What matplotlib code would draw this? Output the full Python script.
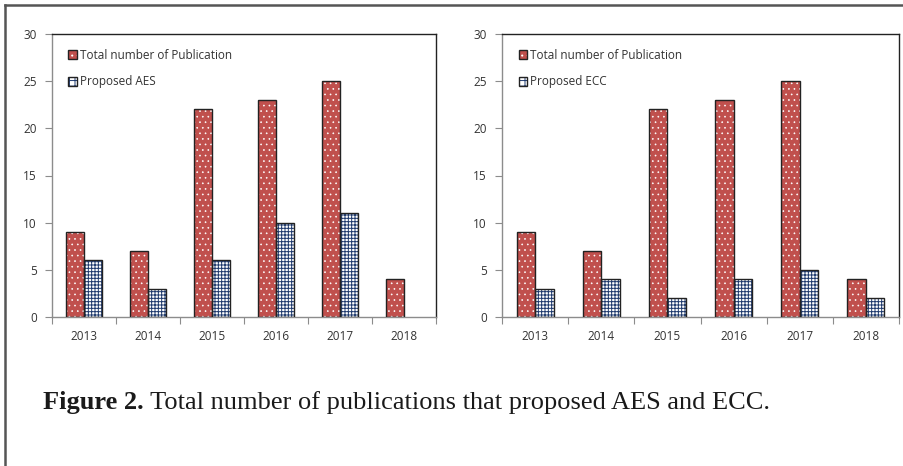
import matplotlib
matplotlib.use("Agg")
import matplotlib.pyplot as plt
import numpy as np
from matplotlib.patches import Patch
from matplotlib.lines import Line2D

years = ["2013", "2014", "2015", "2016", "2017", "2018"]
total_pubs = [9, 7, 22, 23, 25, 4]
aes_pubs = [6, 3, 6, 10, 11, 0]
ecc_pubs = [3, 4, 2, 4, 5, 2]
yticks = [0, 5, 10, 15, 20, 25, 30]
caption_bold = "Figure 2."
caption_rest = " Total number of publications that proposed AES and ECC."

RED = "#C0504D"
NAVY = "#1F3A6E"
AXGRAY = "#8C8C8C"
TXT = "#333333"
EDGE = "#222222"

plt.rcParams["font.family"] = ["Open Sans", "DejaVu Sans"]
plt.rcParams["hatch.linewidth"] = 0.7

W, H = 904, 466
fig = plt.figure(figsize=(W / 100, H / 100), dpi=100)

# outer frame (top and left edges)
fig.add_artist(Line2D([5 / W, 1], [1 - 5 / H] * 2, color="#555555", lw=1.8,
                      transform=fig.transFigure))
fig.add_artist(Line2D([5 / W] * 2, [0, 1 - 5 / H], color="#555555", lw=1.8,
                      transform=fig.transFigure))


def draw_panel(rect, second, second_label):
    ax = fig.add_axes(rect)
    x = np.arange(len(years))
    w = 0.28
    xr = x - w / 2
    xb = x + w / 2
    # red dotted bars: fill + small white dots, then dark outline
    with plt.rc_context({"hatch.linewidth": 0.45}):
        ax.bar(xr, total_pubs, w, color=RED, edgecolor="white", hatch="...", lw=0, zorder=2)
    ax.bar(xr, total_pubs, w, fill=False, edgecolor=EDGE, lw=1.0, zorder=3)
    # blue grid bars
    b = [v if v > 0 else np.nan for v in second]
    ax.bar(xb, b, w, color="white", edgecolor=NAVY, hatch="+++++", lw=0, zorder=2)
    ax.bar(xb, b, w, fill=False, edgecolor=EDGE, lw=1.0, zorder=3)

    ax.set_xlim(-0.5, len(years) - 0.5)
    ax.set_ylim(0, 30)
    ax.set_yticks(yticks)
    ax.set_xticks(np.arange(len(years) + 1) - 0.5)
    ax.set_xticklabels([])
    ax.set_xticks(x, minor=True)
    ax.set_xticklabels(years, minor=True)
    ax.tick_params(axis="x", which="minor", length=0, pad=9, labelsize=8.5, labelcolor=TXT)
    ax.tick_params(axis="x", which="major", length=5, color=AXGRAY, direction="out")
    ax.tick_params(axis="y", length=5, color=AXGRAY, direction="out", labelsize=8.5,
                   labelcolor=TXT, pad=6)
    for s in ("left", "bottom"):
        ax.spines[s].set_color(AXGRAY)
        ax.spines[s].set_linewidth(1.0)
    for s in ("top", "right"):
        ax.spines[s].set_color(EDGE)
        ax.spines[s].set_linewidth(1.0)

    with plt.rc_context({"hatch.linewidth": 0.45}):
        red_fill = Patch(facecolor=RED, edgecolor="white", hatch="...", lw=0)
    h_red = (red_fill, Patch(fill=False, edgecolor=EDGE, lw=1.0))
    h_blue = (Patch(facecolor="white", edgecolor=NAVY, hatch="+++", lw=0),
              Patch(fill=False, edgecolor=EDGE, lw=1.0))
    ax.legend([h_red, h_blue], ["Total number of Publication", second_label],
              loc="upper left", bbox_to_anchor=(0.015, 0.985), frameon=False,
              handlelength=0.75, handleheight=0.75, handletextpad=0.25,
              labelspacing=1.15, fontsize=8.5, labelcolor=TXT)
    return ax


draw_panel([52 / W, 1 - 317 / H, (436 - 52) / W, (317 - 34) / H],
           aes_pubs, "Proposed AES")
draw_panel([502 / W, 1 - 317 / H, (899 - 502) / W, (317 - 34) / H],
           ecc_pubs, "Proposed ECC")

# caption: bold label followed by regular text on the same baseline
cap_y = 1 - 409 / H
t = fig.text(43 / W, cap_y, caption_bold, fontsize=19, fontweight="bold",
             family=["Liberation Serif"], color="#1a1a1a", va="baseline", ha="left")
fig.canvas.draw()
bb = t.get_window_extent()
fig.text(bb.x1 / W, cap_y, caption_rest, fontsize=19, family=["Liberation Serif"],
         color="#1a1a1a", va="baseline", ha="left")

fig.savefig("out.png", dpi=100)
